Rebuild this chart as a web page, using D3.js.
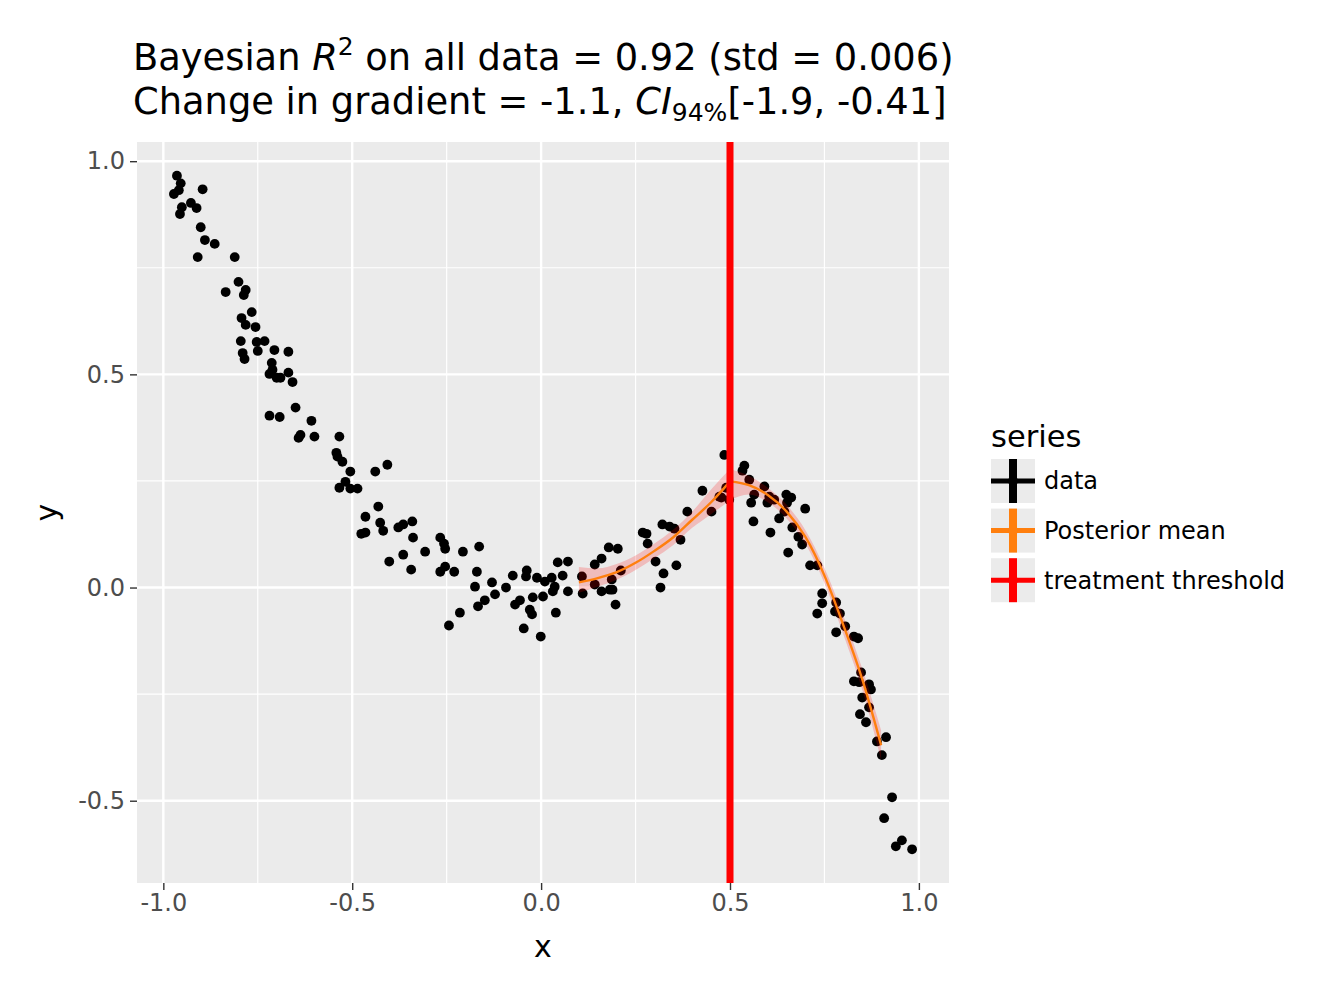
<!DOCTYPE html>
<html>
<head>
<meta charset="utf-8">
<script src="https://cdn.jsdelivr.net/npm/d3@7"></script>
<style>
  body { margin: 0; background: #fff; }
  svg { font-family: "DejaVu Sans", sans-serif; }
</style>
</head>
<body>
<div id="chart"></div>
<script>
// observed data (x, y)
const dataX = [-0.964,-0.954,-0.972,-0.959,-0.896,-0.951,-0.927,-0.912,-0.956,-0.901,-0.890,-0.864,-0.909,-0.811,-0.801,-0.835,-0.782,-0.787,-0.766,-0.793,
  -0.782,-0.756,-0.795,-0.753,-0.732,-0.750,-0.706,-0.669,-0.790,-0.785,-0.713,-0.711,-0.719,-0.700,-0.669,-0.658,-0.690,-0.650,-0.719,-0.692,
  -0.608,-0.637,-0.642,-0.600,-0.534,-0.542,-0.539,-0.526,-0.505,-0.518,-0.534,-0.505,-0.486,-0.439,-0.407,-0.431,-0.465,-0.426,-0.418,-0.476,
  -0.465,-0.402,-0.378,-0.365,-0.341,-0.339,-0.365,-0.344,-0.307,-0.267,-0.257,-0.254,-0.207,-0.164,-0.267,-0.254,-0.230,-0.170,-0.175,-0.130,
  -0.122,-0.149,-0.167,-0.215,-0.244,-0.093,-0.075,-0.038,-0.040,-0.011,0.010,0.028,0.036,0.031,-0.069,-0.056,-0.022,0.005,-0.030,-0.024,
  -0.046,-0.001,0.039,0.057,0.071,0.044,0.071,0.108,0.110,0.142,0.160,0.179,0.203,0.142,0.160,0.182,0.189,0.187,0.211,0.197,
  0.269,0.279,0.282,0.321,0.340,0.353,0.369,0.303,0.324,0.358,0.316,0.387,0.427,0.451,0.472,0.485,0.490,0.498,0.538,0.533,
  0.551,0.556,0.562,0.564,0.477,0.591,0.604,0.617,0.599,0.607,0.649,0.662,0.651,0.644,0.699,0.630,0.665,0.681,0.691,0.654,
  0.712,0.731,0.744,0.744,0.731,0.781,0.778,0.791,0.805,0.781,0.828,0.839,0.847,0.828,0.842,0.868,0.873,0.850,0.868,0.844,
  0.860,0.889,0.913,0.902,0.929,0.908,0.955,0.939,0.982];
const dataY = [0.966,0.948,0.923,0.932,0.934,0.892,0.902,0.890,0.876,0.845,0.815,0.806,0.775,0.775,0.717,0.693,0.698,0.686,0.646,0.632,
  0.616,0.611,0.578,0.576,0.578,0.555,0.557,0.553,0.550,0.536,0.527,0.511,0.501,0.492,0.504,0.482,0.492,0.422,0.403,0.400,
  0.391,0.358,0.351,0.354,0.354,0.316,0.307,0.295,0.272,0.248,0.234,0.232,0.232,0.272,0.288,0.190,0.166,0.152,0.133,0.126,
  0.129,0.061,0.141,0.148,0.155,0.117,0.077,0.042,0.084,0.117,0.103,0.091,0.084,0.096,0.037,0.049,0.037,0.037,0.002,0.012,
  -0.016,-0.030,-0.044,-0.059,-0.089,0.000,0.028,0.040,0.026,0.023,0.014,0.023,0.002,-0.009,-0.040,-0.030,-0.023,-0.021,-0.052,-0.063,
  -0.096,-0.115,-0.059,0.028,-0.009,0.059,0.061,0.026,-0.014,0.054,0.068,0.094,0.091,0.007,-0.009,-0.005,-0.005,0.019,0.040,-0.040,
  0.129,0.126,0.103,0.148,0.143,0.138,0.112,0.061,0.033,0.052,0.000,0.178,0.227,0.178,0.213,0.311,0.234,0.206,0.286,0.274,
  0.253,0.199,0.155,0.218,0.211,0.237,0.213,0.206,0.199,0.129,0.218,0.211,0.199,0.178,0.185,0.162,0.141,0.119,0.101,0.082,
  0.052,0.052,-0.014,-0.037,-0.061,-0.035,-0.056,-0.061,-0.091,-0.105,-0.115,-0.119,-0.199,-0.220,-0.222,-0.227,-0.239,-0.258,-0.281,-0.297,
  -0.316,-0.361,-0.351,-0.393,-0.492,-0.541,-0.593,-0.607,-0.614];

// posterior mean and 94% HDI, before and after the threshold
const preX    = [0.10, 0.15, 0.20, 0.25, 0.30, 0.35, 0.40, 0.45, 0.50];
const preMean = [0.012, 0.022, 0.036, 0.058, 0.086, 0.118, 0.159, 0.200, 0.249];
const preHigh = [0.048, 0.045, 0.055, 0.075, 0.103, 0.136, 0.178, 0.230, 0.278];
const preLow  = [-0.012, 0.002, 0.018, 0.041, 0.069, 0.100, 0.140, 0.172, 0.205];
const postX    = [0.50, 0.55, 0.60, 0.65, 0.70, 0.75, 0.80, 0.85, 0.90];
const postMean = [0.249, 0.240, 0.217, 0.178, 0.118, 0.028, -0.088, -0.215, -0.370];
const postHigh = [0.278, 0.262, 0.234, 0.194, 0.134, 0.046, -0.066, -0.190, -0.335];
const postLow  = [0.205, 0.218, 0.200, 0.162, 0.102, 0.010, -0.110, -0.240, -0.405];

const threshold = 0.5;
const xTicks = [-1.0, -0.5, 0.0, 0.5, 1.0];
const yTicks = [-0.5, 0.0, 0.5, 1.0];
const xMinor = [-0.75, -0.25, 0.25, 0.75];
const yMinor = [-0.25, 0.25, 0.75];
const legendItems = ["data", "Posterior mean", "treatment threshold"];
const legendColors = ["#000000", "#ff7f0e", "#ff0000"];

const W = 1320, H = 999;
const panel = { left: 137, right: 949, top: 142, bottom: 883 };

const svg = d3.select("#chart").append("svg")
    .attr("width", W)
    .attr("height", H);

// ggplot-like 5% expansion
function expand(ext) {
    const r = ext[1] - ext[0];
    return [ext[0] - 0.05 * r, ext[1] + 0.05 * r];
}
const x = d3.scaleLinear().domain(expand(d3.extent(dataX))).range([panel.left, panel.right]);
const y = d3.scaleLinear().domain(expand(d3.extent(dataY))).range([panel.bottom, panel.top]);

svg.append("rect")
    .attr("x", panel.left).attr("y", panel.top)
    .attr("width", panel.right - panel.left)
    .attr("height", panel.bottom - panel.top)
    .attr("fill", "#ebebeb");

const grid = svg.append("g");
grid.selectAll(".vminor").data(xMinor).enter().append("line")
    .attr("x1", d => x(d)).attr("x2", d => x(d))
    .attr("y1", panel.top).attr("y2", panel.bottom)
    .attr("stroke", "#fff").attr("stroke-width", 1.2);
grid.selectAll(".hminor").data(yMinor).enter().append("line")
    .attr("y1", d => y(d)).attr("y2", d => y(d))
    .attr("x1", panel.left).attr("x2", panel.right)
    .attr("stroke", "#fff").attr("stroke-width", 1.2);
grid.selectAll(".vmajor").data(xTicks).enter().append("line")
    .attr("x1", d => x(d)).attr("x2", d => x(d))
    .attr("y1", panel.top).attr("y2", panel.bottom)
    .attr("stroke", "#fff").attr("stroke-width", 2.4);
grid.selectAll(".hmajor").data(yTicks).enter().append("line")
    .attr("y1", d => y(d)).attr("y2", d => y(d))
    .attr("x1", panel.left).attr("x2", panel.right)
    .attr("stroke", "#fff").attr("stroke-width", 2.4);

// points
svg.append("g").selectAll("circle")
    .data(dataX.map((d, i) => [d, dataY[i]]))
    .enter().append("circle")
    .attr("cx", d => x(d[0]))
    .attr("cy", d => y(d[1]))
    .attr("r", 4.9)
    .attr("fill", "#000");

// HDI band + posterior mean, one piece each side of the threshold
const segments = [
    preX.map((d, i) => ({ x: d, m: preMean[i], lo: preLow[i], hi: preHigh[i] })),
    postX.map((d, i) => ({ x: d, m: postMean[i], lo: postLow[i], hi: postHigh[i] }))
];
const area = d3.area().x(d => x(d.x)).y0(d => y(d.lo)).y1(d => y(d.hi)).curve(d3.curveMonotoneX);
const line = d3.line().x(d => x(d.x)).y(d => y(d.m)).curve(d3.curveMonotoneX);

svg.append("g").selectAll("path")
    .data(segments)
    .enter().append("path")
    .attr("d", area)
    .attr("fill", "rgba(255,0,0,0.2)");

svg.append("g").selectAll("path")
    .data(segments)
    .enter().append("path")
    .attr("d", line)
    .attr("fill", "none")
    .attr("stroke", "#ff7f0e")
    .attr("stroke-width", 2.4);

svg.append("line")
    .attr("x1", x(threshold)).attr("x2", x(threshold))
    .attr("y1", panel.top).attr("y2", panel.bottom)
    .attr("stroke", "#ff0000").attr("stroke-width", 7);

// axes
const fmt = d => d.toFixed(1);
const xAxis = d3.axisBottom(x).tickValues(xTicks).tickFormat(fmt).tickSize(7).tickPadding(4);
const gx = svg.append("g").attr("transform", `translate(0,${panel.bottom})`).call(xAxis);
const yAxis = d3.axisLeft(y).tickValues(yTicks).tickFormat(fmt).tickSize(7).tickPadding(5);
const gy = svg.append("g").attr("transform", `translate(${panel.left},0)`).call(yAxis);
[gx, gy].forEach(g => {
    g.select(".domain").remove();
    g.selectAll(".tick line").attr("stroke", "#333").attr("stroke-width", 1.4);
    g.selectAll(".tick text").attr("fill", "#4d4d4d")
        .style("font-size", "24px").style("font-family", "DejaVu Sans");
});

svg.append("text")
    .attr("x", (panel.left + panel.right) / 2).attr("y", 957)
    .attr("text-anchor", "middle")
    .style("font-size", "30px")
    .text("x");
svg.append("text")
    .attr("transform", `translate(57,${(panel.top + panel.bottom) / 2}) rotate(-90)`)
    .attr("text-anchor", "middle")
    .style("font-size", "30px")
    .text("y");

// title
const t1 = svg.append("text").attr("x", 133).attr("y", 70).style("font-size", "36.8px");
t1.append("tspan").text("Bayesian ");
t1.append("tspan").style("font-style", "italic").text("R");
t1.append("tspan").attr("dy", -15).style("font-size", "25px").text("2");
t1.append("tspan").attr("dy", 15).text(" on all data = 0.92 (std = 0.006)");

const t2 = svg.append("text").attr("x", 133).attr("y", 114).style("font-size", "36.8px");
t2.append("tspan").text("Change in gradient = -1.1, ");
t2.append("tspan").style("font-style", "italic").text("CI");
t2.append("tspan").attr("dy", 7).style("font-size", "25px").text("94%");
t2.append("tspan").attr("dy", -7).text("[-1.9, -0.41]");

// legend
const lg = svg.append("g").attr("transform", "translate(991,0)");
lg.append("text").attr("x", 0).attr("y", 447).style("font-size", "30.5px").text("series");
const item = lg.selectAll(".item").data(legendItems).enter().append("g")
    .attr("transform", (d, i) => `translate(0,${459 + i * 49.6})`);
item.append("rect").attr("width", 44).attr("height", 44).attr("fill", "#ebebeb");
item.append("line").attr("x1", 0).attr("x2", 44).attr("y1", 22).attr("y2", 22)
    .attr("stroke", (d, i) => legendColors[i]).attr("stroke-width", 5);
item.append("line").attr("x1", 22).attr("x2", 22).attr("y1", 0).attr("y2", 44)
    .attr("stroke", (d, i) => legendColors[i]).attr("stroke-width", 8);
item.append("circle").attr("cx", 22).attr("cy", 22).attr("r", 5)
    .attr("fill", (d, i) => legendColors[i]);
item.append("text").attr("x", 53).attr("y", 22).attr("dy", "0.35em")
    .style("font-size", "24px").text(d => d);
</script>
</body>
</html>
